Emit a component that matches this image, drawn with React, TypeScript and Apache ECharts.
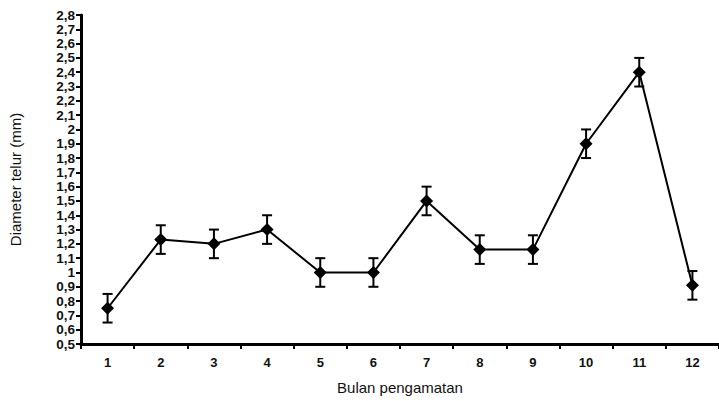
import React, { useEffect, useRef } from "react";
import * as echarts from "echarts";

const months = ["1", "2", "3", "4", "5", "6", "7", "8", "9", "10", "11", "12"];
const diameter = [0.75, 1.23, 1.2, 1.3, 1.0, 1.0, 1.5, 1.16, 1.16, 1.9, 2.4, 0.91];
const errLow = [0.65, 1.13, 1.1, 1.2, 0.9, 0.9, 1.4, 1.06, 1.06, 1.8, 2.3, 0.81];
const errHigh = [0.85, 1.33, 1.3, 1.4, 1.1, 1.1, 1.6, 1.26, 1.26, 2.0, 2.5, 1.01];

const FONT = "'Liberation Sans', Arial, sans-serif";

export default function App() {
  const ref = useRef<HTMLDivElement>(null);
  useEffect(() => {
    if (!ref.current) return;
    const chart = echarts.init(ref.current, undefined, { renderer: "svg" });
    const errData = months.map((_, i) => [i, errLow[i], errHigh[i]]);
    chart.setOption({
      animation: false,
      backgroundColor: "#fff",
      grid: { left: 80, top: 15, bottom: 57, width: 646 },
      xAxis: {
        type: "category",
        data: months,
        boundaryGap: true,
        name: "Bulan pengamatan",
        nameLocation: "middle",
        nameGap: 36,
        nameTextStyle: { fontFamily: FONT, fontSize: 15, color: "#111" },
        axisLine: { lineStyle: { color: "#000", width: 3 } },
        axisTick: { show: true, length: 5, lineStyle: { color: "#000", width: 2 } },
        axisLabel: { fontFamily: FONT, fontSize: 13, fontWeight: "bold", color: "#111", margin: 12 },
        splitLine: { show: false },
      },
      yAxis: {
        type: "value",
        min: 0.5,
        max: 2.8,
        interval: 0.1,
        name: "Diameter telur (mm)",
        nameLocation: "middle",
        nameGap: 58,
        nameRotate: 90,
        nameTextStyle: { fontFamily: FONT, fontSize: 15, color: "#111" },
        axisLine: { show: true, lineStyle: { color: "#000", width: 3 } },
        axisTick: { show: true, length: 5, lineStyle: { color: "#000", width: 2 } },
        axisLabel: {
          fontFamily: FONT,
          fontSize: 13.5,
          lineHeight: 13,
          fontWeight: "bold",
          color: "#111",
          margin: 6,
          formatter: (v: number) => String(Math.round(v * 10) / 10).replace(".", ","),
        },
        splitLine: { show: false },
      },
      series: [
        {
          type: "custom",
          data: errData,
          z: 3,
          renderItem: (params: any, api: any) => {
            const x = api.value(0);
            const lo = api.coord([x, api.value(1)]);
            const hi = api.coord([x, api.value(2)]);
            const hw = 5;
            const style = { stroke: "#000", lineWidth: 2 };
            return {
              type: "group",
              children: [
                { type: "line", shape: { x1: lo[0], y1: lo[1], x2: hi[0], y2: hi[1] }, style },
                { type: "line", shape: { x1: lo[0] - hw, y1: lo[1], x2: lo[0] + hw, y2: lo[1] }, style },
                { type: "line", shape: { x1: hi[0] - hw, y1: hi[1], x2: hi[0] + hw, y2: hi[1] }, style },
              ],
            };
          },
        },
        {
          type: "line",
          data: diameter,
          z: 4,
          symbol: "diamond",
          symbolSize: 13,
          lineStyle: { color: "#000", width: 2 },
          itemStyle: { color: "#000" },
        },
      ],
    });
    return () => chart.dispose();
  }, []);
  return <div ref={ref} style={{ width: 719, height: 401, position: "absolute", left: 0, top: 0 }} />;
}
